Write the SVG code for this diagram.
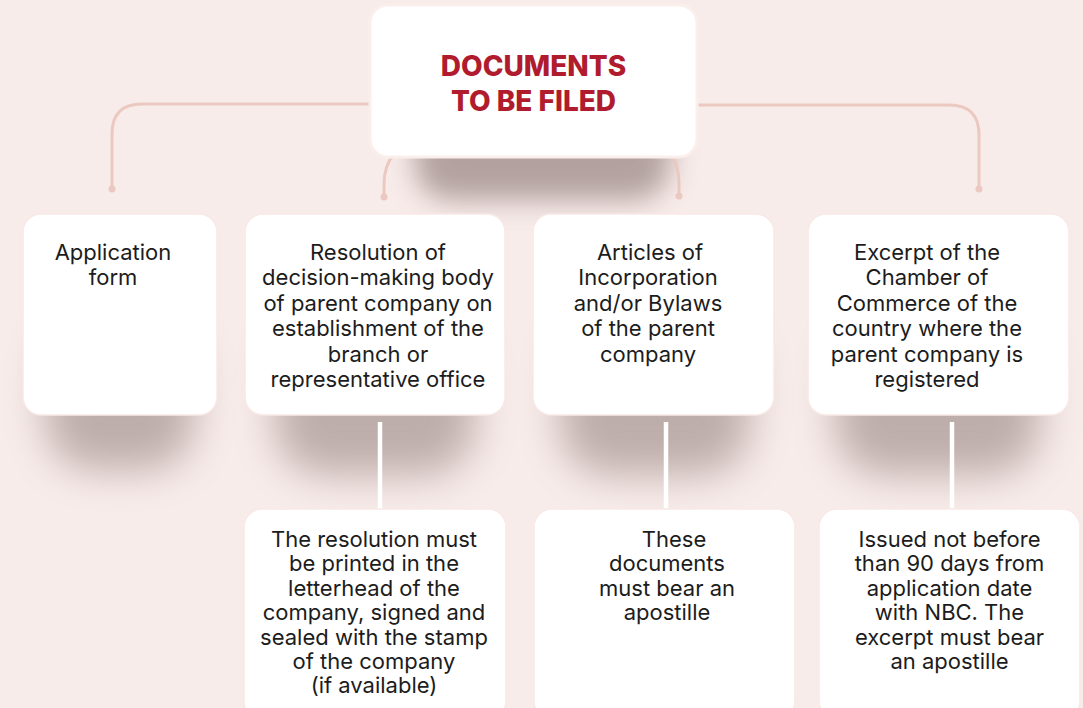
<svg xmlns="http://www.w3.org/2000/svg" width="1083" height="708" viewBox="0 0 1083 708">
  <defs>
    <filter id="sh" x="-40%" y="-40%" width="180%" height="180%">
      <feGaussianBlur stdDeviation="20"/>
    </filter>
    <filter id="sh2" x="-30%" y="-50%" width="160%" height="200%">
      <feGaussianBlur stdDeviation="14"/>
    </filter>
    <style>
      .bg { fill: #F8ECEA; }
      .box { fill: #FFFFFF; stroke: #F9E9E6; stroke-width: 1.5; }
      .shadow { fill: #6E5955; opacity: 0.42; filter: url(#sh); }
      .tshadow { fill: #6E5955; opacity: 0.5; filter: url(#sh2); }
      .conn { fill: none; stroke: #EBC9C0; stroke-width: 3; stroke-linecap: round; }
      .dot { fill: #EBC9C0; }
      .wconn { fill: none; stroke: #FFFFFF; stroke-width: 4.5; }
      .t { font-family: Inter, "Liberation Sans", sans-serif; font-size: 22px; fill: #1C1C1C; text-anchor: middle; }
      .title { font-family: Inter, "Liberation Sans", sans-serif; font-size: 28px; font-weight: 800; fill: #B01C2E; text-anchor: middle; }
    </style>
  </defs>
  <rect class="bg" x="0" y="0" width="1083" height="708"/>

  <!-- shadows -->
  <rect class="tshadow" x="415" y="110" width="255" height="90" rx="35"/>
  <rect class="shadow" x="45" y="320" width="150" height="150" rx="50"/>
  <rect class="shadow" x="275" y="320" width="200" height="155" rx="50"/>
  <rect class="shadow" x="560" y="320" width="190" height="155" rx="50"/>
  <rect class="shadow" x="835" y="320" width="205" height="155" rx="50"/>

  <!-- connectors -->
  <g id="connectors">
    <path class="conn" d="M370 104 H142 Q112 104 112 134 V188"/>
    <circle class="dot" cx="112" cy="189" r="3.5"/>
    <path class="conn" d="M394 154 Q384 166 384 184 V197"/>
    <circle class="dot" cx="384" cy="197" r="3.5"/>
    <path class="conn" d="M671 154 Q679 166 679 184 V196"/>
    <circle class="dot" cx="679" cy="196" r="3.5"/>
    <path class="conn" d="M697 105 H949 Q979 105 979 135 V188"/>
    <circle class="dot" cx="979" cy="189" r="3.5"/>
    <path class="wconn" d="M380 422 V512"/>
    <path class="wconn" d="M666 422 V512"/>
    <path class="wconn" d="M952 422 V512"/>
  </g>

  <g id="title">
    <rect class="box" x="370" y="5" width="327" height="152" rx="18" style="stroke:#FBEFEC;stroke-width:3"/>
    <text class="title" x="533.5" y="76">DOCUMENTS</text>
    <text class="title" x="533.5" y="111">TO BE FILED</text>
  </g>

  <g id="n1">
    <rect class="box" x="23" y="214" width="194" height="201" rx="18"/>
    <text class="t" x="113" y="260">Application</text>
    <text class="t" x="113" y="285">form</text>
  </g>

  <g id="n2">
    <rect class="box" x="245" y="214" width="260" height="201" rx="18"/>
    <text class="t" x="378" y="260">Resolution of</text>
    <text class="t" x="378" y="285">decision-making body</text>
    <text class="t" x="378" y="310.5">of parent company on</text>
    <text class="t" x="378" y="336">establishment of the</text>
    <text class="t" x="378" y="361.5">branch or</text>
    <text class="t" x="378" y="387">representative office</text>
  </g>

  <g id="n3">
    <rect class="box" x="533" y="214" width="241" height="201" rx="18"/>
    <text class="t" x="650" y="260">Articles of</text>
    <text class="t" x="648" y="285">Incorporation</text>
    <text class="t" x="648" y="310.5">and/or Bylaws</text>
    <text class="t" x="648" y="336">of the parent</text>
    <text class="t" x="648" y="361.5">company</text>
  </g>

  <g id="n4">
    <rect class="box" x="808" y="214" width="261" height="201" rx="18"/>
    <text class="t" x="927" y="260">Excerpt of the</text>
    <text class="t" x="927" y="285">Chamber of</text>
    <text class="t" x="927" y="310.5">Commerce of the</text>
    <text class="t" x="927" y="336">country where the</text>
    <text class="t" x="927" y="361.5">parent company is</text>
    <text class="t" x="927" y="387">registered</text>
  </g>

  <g id="n5">
    <rect class="box" x="244" y="509" width="262" height="210" rx="18"/>
    <text class="t" x="374" y="547">The resolution must</text>
    <text class="t" x="374" y="571">be printed in the</text>
    <text class="t" x="374" y="595.5">letterhead of the</text>
    <text class="t" x="374" y="620">company, signed and</text>
    <text class="t" x="374" y="644.5">sealed with the stamp</text>
    <text class="t" x="374" y="668.5">of the company</text>
    <text class="t" x="374" y="693">(if available)</text>
  </g>

  <g id="n6">
    <rect class="box" x="534" y="509" width="261" height="210" rx="18"/>
    <text class="t" x="674" y="547">These</text>
    <text class="t" x="667" y="571">documents</text>
    <text class="t" x="667" y="595.5">must bear an</text>
    <text class="t" x="667" y="620">apostille</text>
  </g>

  <g id="n7">
    <rect class="box" x="819" y="509" width="261" height="210" rx="18"/>
    <text class="t" x="949.5" y="547">Issued not before</text>
    <text class="t" x="949.5" y="571">than 90 days from</text>
    <text class="t" x="949.5" y="595.5">application date</text>
    <text class="t" x="949.5" y="620">with NBC. The</text>
    <text class="t" x="949.5" y="644.5">excerpt must bear</text>
    <text class="t" x="949.5" y="668.5">an apostille</text>
  </g>
</svg>
